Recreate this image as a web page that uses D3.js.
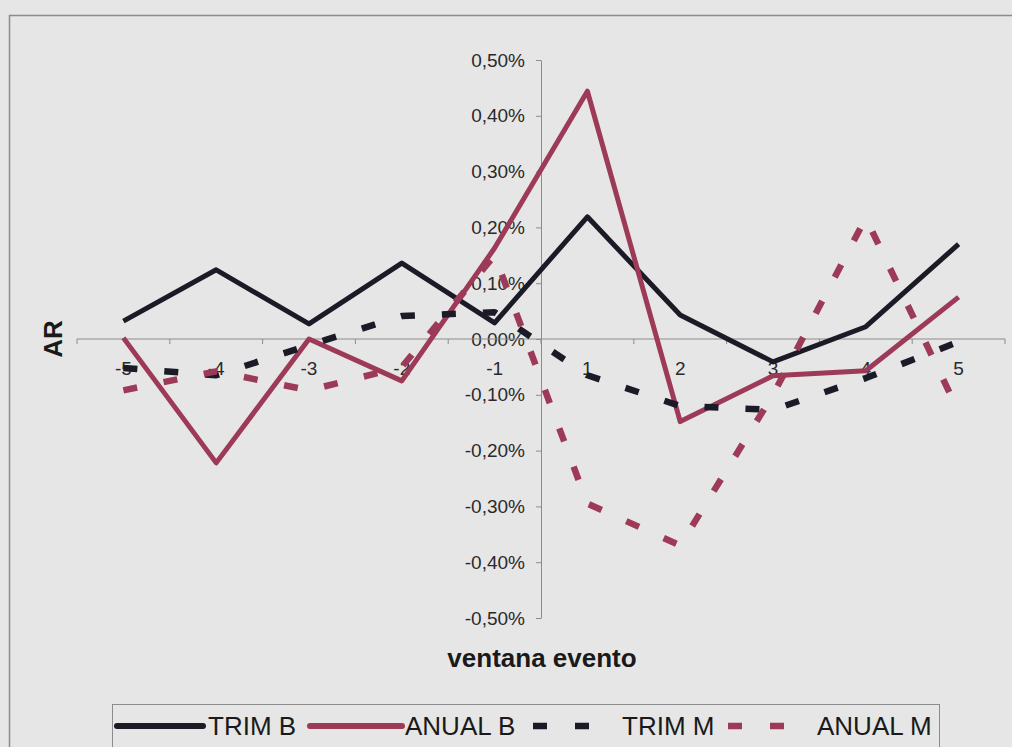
<!DOCTYPE html>
<html>
<head>
<meta charset="utf-8">
<script src="https://cdn.jsdelivr.net/npm/d3@7"></script>
<style>
  html, body { margin: 0; padding: 0; background: #e6e6e6; }
  svg { display: block; font-family: "Liberation Sans", Arial, sans-serif; }
</style>
</head>
<body>
<div id="chart"></div>
<script>
// event window categories
var categories = ["-5", "-4", "-3", "-2", "-1", "1", "2", "3", "4", "5"]

// AR values in percent
var trimB  = [0.032, 0.124, 0.027, 0.136, 0.029, 0.219, 0.043, -0.041, 0.022, 0.170]
var anualB = [0.002, -0.222, 0.000, -0.075, 0.163, 0.444, -0.148, -0.066, -0.057, 0.075]
var trimM  = [-0.052, -0.065, -0.011, 0.041, 0.048, -0.065, -0.120, -0.127, -0.070, -0.005]
var anualM = [-0.092, -0.058, -0.092, -0.050, 0.150, -0.295, -0.370, -0.100, 0.217, -0.130]

var yTicks = [-0.5, -0.4, -0.3, -0.2, -0.1, 0, 0.1, 0.2, 0.3, 0.4, 0.5]

var seriesNames = ["TRIM B", "ANUAL B", "TRIM M", "ANUAL M"]
var seriesData = [trimB, anualB, trimM, anualM]

var width = 1012
var height = 747

var black = "#1b1b28"
var maroon = "#9c3a58"

var styles = [
    {color: black, dash: null, w: 5},
    {color: maroon, dash: null, w: 5},
    {color: black, dash: "14,27", w: 6.5},
    {color: maroon, dash: "14,27", w: 6.5}
]

var svg = d3.select("#chart")
            .append("svg")
            .attr("width", width)
            .attr("height", height)

// outer chart frame
svg.append("rect")
    .attr("x", 9.5)
    .attr("y", 15.5)
    .attr("width", 1020)
    .attr("height", 760)
    .attr("fill", "#e6e6e6")
    .attr("stroke", "#8c8c8c")
    .attr("stroke-width", 1.5)

var x = d3.scaleBand()
          .domain(categories)
          .range([77, 1005])
          .padding(0)

var y = d3.scaleLinear()
          .domain([-0.5, 0.5])
          .range([618, 60])

var xc = function(c) { return x(c) + x.bandwidth() / 2 }

var fmt = function(v) {
    return d3.format(".2f")(v).replace(".", ",").replace("−", "-") + "%"
}

// y axis sits on the boundary between -1 and 1
var yAxis = d3.axisLeft(y)
              .tickValues(yTicks)
              .tickFormat(fmt)
              .tickSize(5)
              .tickSizeOuter(0)
              .tickPadding(11)

var gy = svg.append("g")
            .attr("transform", "translate(" + x("1") + ",0)")
            .call(yAxis)
gy.select(".domain").attr("stroke", "#8c8c8c").attr("stroke-width", 1)
gy.selectAll(".tick line").attr("stroke", "#8c8c8c")
gy.selectAll(".tick text")
    .attr("fill", "#2a2a2a")
    .style("font-size", "19px")

// x axis at zero
var gx = svg.append("g")
gx.append("line")
    .attr("x1", x.range()[0])
    .attr("x2", x.range()[1])
    .attr("y1", y(0))
    .attr("y2", y(0))
    .attr("stroke", "#8c8c8c")
    .attr("stroke-width", 1)

var boundaries = categories.map(function(c) { return x(c) }).concat([x.range()[1]])
gx.selectAll("line.tk")
    .data(boundaries)
    .enter()
    .append("line")
    .attr("class", "tk")
    .attr("x1", function(d) { return d })
    .attr("x2", function(d) { return d })
    .attr("y1", y(0))
    .attr("y2", y(0) + 5)
    .attr("stroke", "#8c8c8c")

gx.selectAll("text")
    .data(categories)
    .enter()
    .append("text")
    .attr("x", function(d) { return xc(d) })
    .attr("y", y(0) + 36)
    .attr("text-anchor", "middle")
    .attr("fill", "#2a2a2a")
    .style("font-size", "19px")
    .text(function(d) { return d })

// series lines
var line = d3.line()
             .x(function(d, i) { return xc(categories[i]) })
             .y(function(d) { return y(d) })

for (var s = 0; s < seriesData.length; s++) {
    var p = svg.append("path")
        .datum(seriesData[s])
        .attr("d", line)
        .attr("fill", "none")
        .attr("stroke", styles[s].color)
        .attr("stroke-width", styles[s].w)
        .attr("stroke-linejoin", "round")
    if (styles[s].dash) p.attr("stroke-dasharray", styles[s].dash)
}

// axis titles
svg.append("text")
    .attr("transform", "translate(62,339) rotate(-90)")
    .attr("text-anchor", "middle")
    .attr("fill", "#1a1a1a")
    .style("font-size", "26px")
    .style("font-weight", "bold")
    .text("AR")

svg.append("text")
    .attr("x", 542)
    .attr("y", 667)
    .attr("text-anchor", "middle")
    .attr("fill", "#1a1a1a")
    .style("font-size", "26px")
    .style("font-weight", "bold")
    .text("ventana evento")

// legend
svg.append("rect")
    .attr("x", 112.5)
    .attr("y", 704.5)
    .attr("width", 827)
    .attr("height", 60)
    .attr("fill", "#e6e6e6")
    .attr("stroke", "#8c8c8c")
    .attr("stroke-width", 1)

var legendSample = [[117, 203], [310, 402], [533, 590], [728, 787]]
var legendText = [208, 405, 622, 817]
var ly = 726

for (var k = 0; k < seriesNames.length; k++) {
    var ls = svg.append("line")
        .attr("x1", legendSample[k][0])
        .attr("x2", legendSample[k][1])
        .attr("y1", ly)
        .attr("y2", ly)
        .attr("stroke", styles[k].color)
        .attr("stroke-width", styles[k].dash ? 6.5 : 6)
        .attr("stroke-linecap", styles[k].dash ? "butt" : "round")
    if (styles[k].dash) ls.attr("stroke-dasharray", "14,28")
    svg.append("text")
        .attr("x", legendText[k])
        .attr("y", ly + 9)
        .attr("fill", "#1a1a1a")
        .style("font-size", "26px")
        .text(seriesNames[k])
}
</script>
</body>
</html>
